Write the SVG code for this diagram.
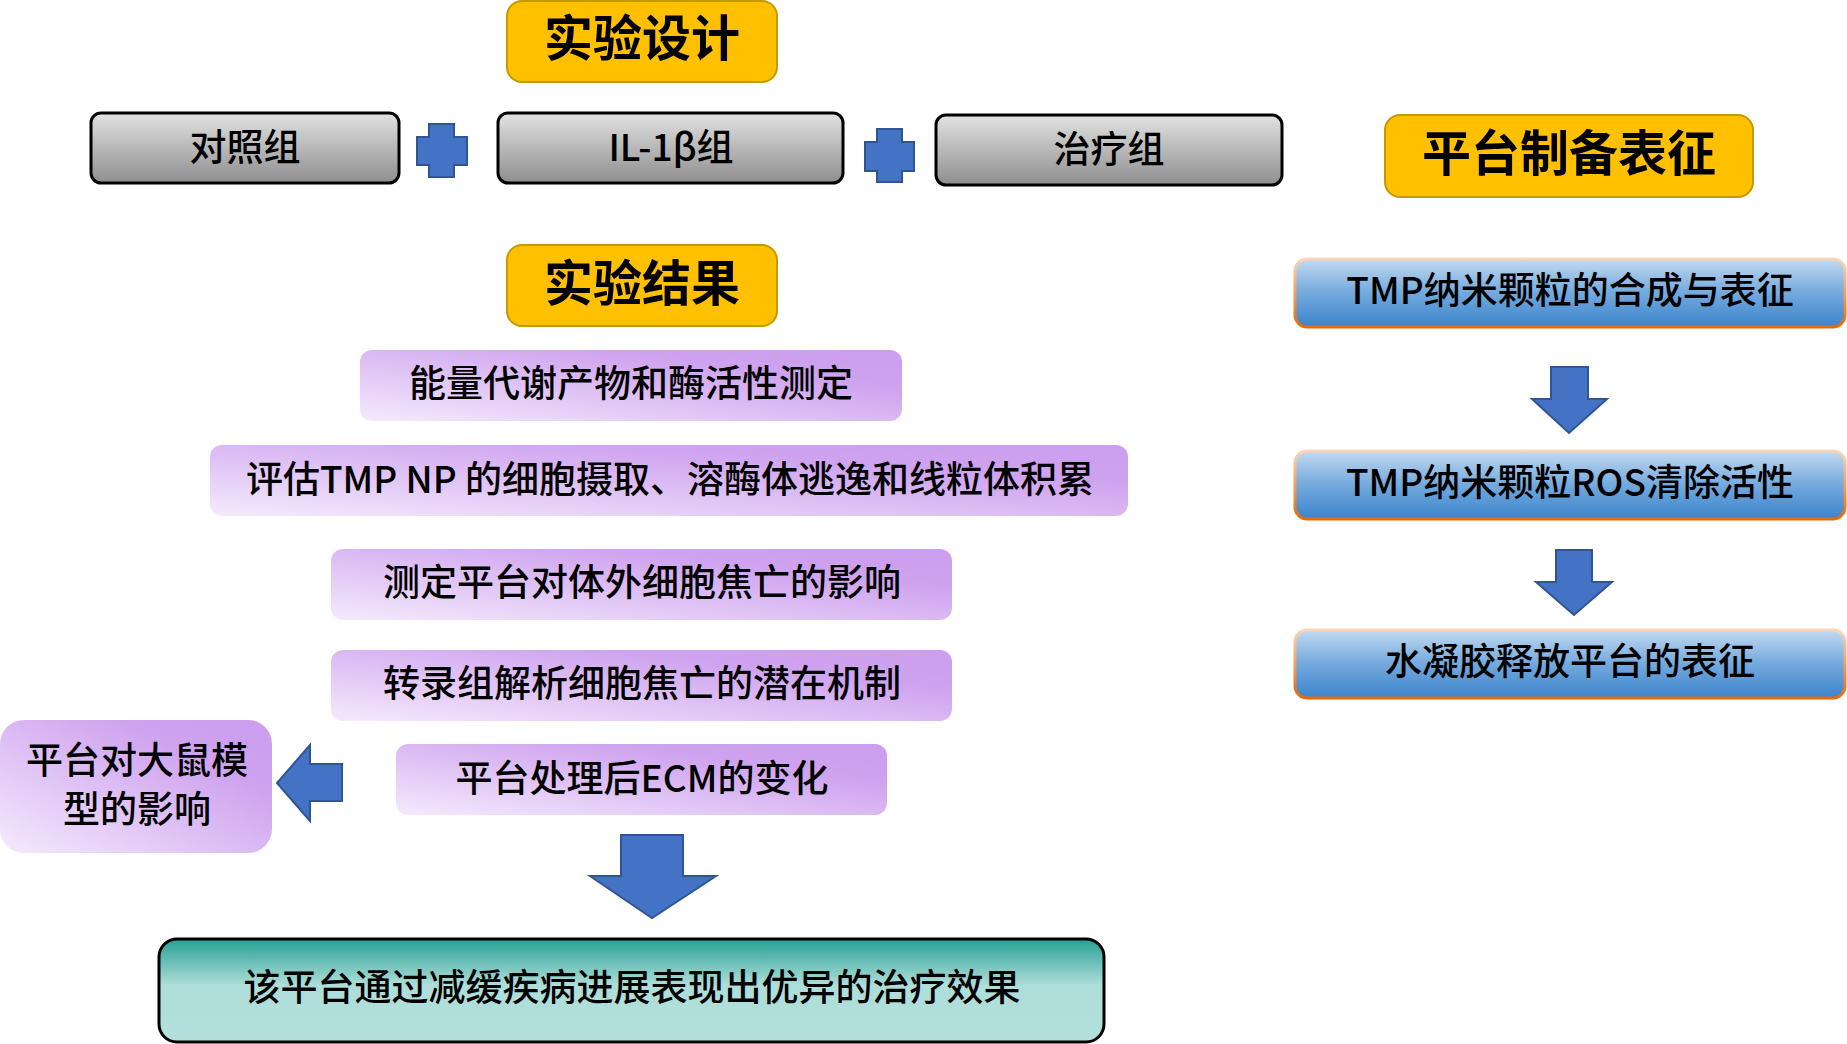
<svg xmlns="http://www.w3.org/2000/svg" width="1847" height="1044" viewBox="0 0 1847 1044">
<defs>
<linearGradient id="gGray" x1="0" y1="0" x2="0" y2="1"><stop offset="0" stop-color="#E2E2E2"/><stop offset="1" stop-color="#8E8E8E"/></linearGradient>
<linearGradient id="gPurple" x1="0" y1="1" x2="1" y2="0"><stop offset="0" stop-color="#F4EAFC"/><stop offset="0.72" stop-color="#CFA3EF"/><stop offset="1" stop-color="#CB9DEE"/></linearGradient>
<linearGradient id="gTeal" x1="0" y1="0" x2="0" y2="1"><stop offset="0" stop-color="#27A095"/><stop offset="0.45" stop-color="#AEDED9"/><stop offset="1" stop-color="#B3E0DC"/></linearGradient>
<linearGradient id="gBlue" x1="0" y1="0" x2="0" y2="1"><stop offset="0" stop-color="#C2DAF1"/><stop offset="0.5" stop-color="#73A9DD"/><stop offset="1" stop-color="#3B84CD"/></linearGradient>
<linearGradient id="gOrange" x1="0" y1="0" x2="0" y2="1"><stop offset="0" stop-color="#FAD5BC"/><stop offset="1" stop-color="#E36A0A"/></linearGradient>
</defs>
<style>
text{font-family:"Noto Sans CJK SC","Noto Sans",sans-serif;fill:#000;text-anchor:middle}
.t{font-size:49px;font-weight:700}
.n{font-size:37px;font-weight:500}
.title{fill:#FFC000;stroke:#C49A00;stroke-width:2}
.gray{fill:url(#gGray);stroke:#000;stroke-width:3}
.purple{fill:url(#gPurple)}
.blue{fill:url(#gBlue);stroke:url(#gOrange);stroke-width:3}
.teal{fill:url(#gTeal);stroke:#000;stroke-width:3}
.arr{fill:#4472C4;stroke:#2F5597;stroke-width:2;stroke-linejoin:miter}
</style>
<rect width="1847" height="1044" fill="#fff"/>

<g id="title-design"><rect class="title" x="507" y="1" width="270" height="81" rx="15"/><text class="t" x="642" y="56">实验设计</text></g>
<g id="title-results"><rect class="title" x="507" y="245" width="270" height="81" rx="15"/><text class="t" x="642" y="301">实验结果</text></g>
<g id="title-platform"><rect class="title" x="1385" y="115" width="368" height="82" rx="15"/><text class="t" x="1569" y="171">平台制备表征</text></g>

<g id="group-control"><rect class="gray" x="91" y="113" width="308" height="70" rx="10"/><text class="n" x="245" y="161">对照组</text></g>
<g id="group-il1b"><rect class="gray" x="498" y="113" width="345" height="70" rx="10"/><text class="n" x="671" y="161">IL-1β组</text></g>
<g id="group-treat"><rect class="gray" x="936" y="115" width="346" height="70" rx="10"/><text class="n" x="1109" y="163">治疗组</text></g>

<g id="r1"><rect class="purple" x="360" y="350" width="542" height="71" rx="12"/><text class="n" x="631" y="397">能量代谢产物和酶活性测定</text></g>
<g id="r2"><rect class="purple" x="210" y="445" width="918" height="71" rx="12"/><text class="n" x="670" y="493">评估TMP NP 的细胞摄取、溶酶体逃逸和线粒体积累</text></g>
<g id="r3"><rect class="purple" x="331" y="549" width="621" height="71" rx="12"/><text class="n" x="642" y="596">测定平台对体外细胞焦亡的影响</text></g>
<g id="r4"><rect class="purple" x="331" y="650" width="621" height="71" rx="12"/><text class="n" x="642" y="697">转录组解析细胞焦亡的潜在机制</text></g>
<g id="r5"><rect class="purple" x="396" y="744" width="491" height="71" rx="12"/><text class="n" x="642" y="792">平台处理后ECM的变化</text></g>
<g id="r6"><rect class="purple" x="0" y="720" width="272" height="133" rx="24"/><text class="n" x="137" y="774">平台对大鼠模</text><text class="n" x="137" y="823">型的影响</text></g>

<g id="conclusion"><rect class="teal" x="159" y="939" width="945" height="103" rx="18"/><text class="n" x="632" y="1001">该平台通过减缓疾病进展表现出优异的治疗效果</text></g>

<g id="p1"><rect class="blue" x="1295" y="259" width="550" height="68" rx="12"/><text class="n" x="1570" y="304">TMP纳米颗粒的合成与表征</text></g>
<g id="p2"><rect class="blue" x="1295" y="451" width="550" height="68" rx="12"/><text class="n" x="1570" y="496">TMP纳米颗粒ROS清除活性</text></g>
<g id="p3"><rect class="blue" x="1295" y="630" width="550" height="68" rx="12"/><text class="n" x="1570" y="675">水凝胶释放平台的表征</text></g>

<g id="connectors">
<path class="arr" d="M429,124 H454 V137 H467 V165 H454 V177 H429 V165 H417 V137 H429 Z"/>
<path class="arr" d="M877,129 H902 V142 H914 V171 H902 V182 H877 V171 H865 V142 H877 Z"/>
<path class="arr" d="M342,764 H310 V745 L277,783 L310,821 V801 H342 Z"/>
<path class="arr" d="M621,835 H683 V876 H716 L652,918 L590,876 H621 Z"/>
<path class="arr" d="M1551,367 H1588 V399 H1607 L1569,433 L1532,399 H1551 Z"/>
<path class="arr" d="M1556,550 H1592 V582 H1612 L1574,615 L1536,582 H1556 Z"/>
</g>
</svg>
